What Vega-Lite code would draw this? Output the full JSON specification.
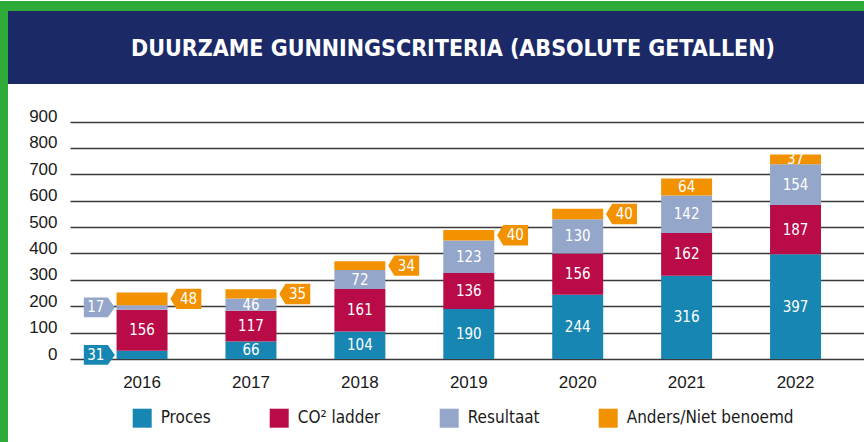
{
  "$schema": "https://vega.github.io/schema/vega-lite/v6.json",
  "background": "white",
  "padding": 0,
  "autosize": {"type": "pad"},
  "bounds": "flush",
  "spacing": 0,
  "resolve": {"scale": {"color": "independent", "fill": "independent"}},
  "config": {"view": {"stroke": null}, "font": "Liberation Sans"},
  "hconcat": [
    {
      "width": 8, "height": 442,
      "view": {"fill": "#2eaa38", "stroke": null},
      "data": {"values": [{"t": ""}]},
      "mark": {"type": "text"},
      "encoding": {"text": {"field": "t"}}
    },
    {
      "spacing": 0,
      "bounds": "flush",
      "resolve": {"scale": {"color": "independent", "fill": "independent"}},
      "vconcat": [
        {
          "width": 856, "height": 10,
          "view": {"fill": "#2eaa38", "stroke": null},
          "data": {"values": [{"t": ""}]},
          "mark": {"type": "text"},
          "encoding": {"text": {"field": "t"}}
        },
        {
          "width": 856, "height": 73,
          "view": {"fill": "#1b2a66", "stroke": null},
          "data": {"values": [{"t": "DUURZAME GUNNINGSCRITERIA (ABSOLUTE GETALLEN)"}]},
          "mark": {"type": "text", "font": "DejaVu Sans Condensed", "fontWeight": "bold", "fontSize": 23, "color": "white", "dx": 17, "dy": 1, "baseline": "middle", "align": "center"},
          "encoding": {"text": {"field": "t"}}
        },
        {
          "spacing": 0,
          "bounds": "flush",
          "resolve": {"scale": {"color": "independent", "fill": "independent"}},
          "hconcat": [
            {
              "width": 62, "height": 275,
              "data": {"values": [{"t": ""}]},
              "mark": {"type": "text"},
              "encoding": {"text": {"field": "t"}}
            },
            {
              "width": 794, "height": 275,
              "data": {"values": [
                {"year": "2016", "series": "Proces", "rank": 1, "value": 31},
                {"year": "2016", "series": "CO² ladder", "rank": 2, "value": 156},
                {"year": "2016", "series": "Resultaat", "rank": 3, "value": 17},
                {"year": "2016", "series": "Anders/Niet benoemd", "rank": 4, "value": 48},
                {"year": "2017", "series": "Proces", "rank": 1, "value": 66},
                {"year": "2017", "series": "CO² ladder", "rank": 2, "value": 117},
                {"year": "2017", "series": "Resultaat", "rank": 3, "value": 46},
                {"year": "2017", "series": "Anders/Niet benoemd", "rank": 4, "value": 35},
                {"year": "2018", "series": "Proces", "rank": 1, "value": 104},
                {"year": "2018", "series": "CO² ladder", "rank": 2, "value": 161},
                {"year": "2018", "series": "Resultaat", "rank": 3, "value": 72},
                {"year": "2018", "series": "Anders/Niet benoemd", "rank": 4, "value": 34},
                {"year": "2019", "series": "Proces", "rank": 1, "value": 190},
                {"year": "2019", "series": "CO² ladder", "rank": 2, "value": 136},
                {"year": "2019", "series": "Resultaat", "rank": 3, "value": 123},
                {"year": "2019", "series": "Anders/Niet benoemd", "rank": 4, "value": 40},
                {"year": "2020", "series": "Proces", "rank": 1, "value": 244},
                {"year": "2020", "series": "CO² ladder", "rank": 2, "value": 156},
                {"year": "2020", "series": "Resultaat", "rank": 3, "value": 130},
                {"year": "2020", "series": "Anders/Niet benoemd", "rank": 4, "value": 40},
                {"year": "2021", "series": "Proces", "rank": 1, "value": 316},
                {"year": "2021", "series": "CO² ladder", "rank": 2, "value": 162},
                {"year": "2021", "series": "Resultaat", "rank": 3, "value": 142},
                {"year": "2021", "series": "Anders/Niet benoemd", "rank": 4, "value": 64},
                {"year": "2022", "series": "Proces", "rank": 1, "value": 397},
                {"year": "2022", "series": "CO² ladder", "rank": 2, "value": 187},
                {"year": "2022", "series": "Resultaat", "rank": 3, "value": 154},
                {"year": "2022", "series": "Anders/Niet benoemd", "rank": 4, "value": 37}
              ]},
              "encoding": {
                "x": {
                  "field": "year", "type": "nominal", "title": null,
                  "scale": {"paddingInner": 0.532, "paddingOuter": 0.411, "align": 0.52},
                  "axis": {"labelAngle": 0, "domain": false, "ticks": false, "grid": false, "labelPadding": 15, "labelFontSize": 17, "labelColor": "#1a1a1a", "labelFont": "Liberation Sans"}
                },
                "y": {
                  "field": "value", "type": "quantitative", "stack": "zero", "title": null,
                  "scale": {"domain": [0, 1042.5], "nice": false},
                  "axis": {"values": [0, 100, 200, 300, 400, 500, 600, 700, 800, 900], "domain": false, "ticks": false, "grid": true, "gridColor": "#3a3a3a", "gridWidth": 1.5, "gridOpacity": 1, "labelFontSize": 17, "labelPadding": 13, "labelBaseline": "middle", "labelOffset": -5, "labelColor": "#1a1a1a", "labelFont": "Liberation Sans"}
                },
                "order": {"field": "rank", "type": "quantitative"}
              },
              "layer": [
                {
                  "mark": {"type": "bar"},
                  "encoding": {
                    "color": {
                      "field": "series", "type": "nominal",
                      "scale": {"domain": ["Proces", "CO² ladder", "Resultaat", "Anders/Niet benoemd"], "range": ["#1786b3", "#b80b48", "#94a6c9", "#f39200"]},
                      "legend": {"title": null, "orient": "none", "legendX": 62.7, "legendY": 324.7, "direction": "horizontal", "columns": 4, "padding": 0, "symbolType": "square", "symbolSize": 361, "symbolStrokeWidth": 0, "symbolOpacity": 1, "labelFontSize": 17, "labelFont": "DejaVu Sans Condensed", "labelColor": "#1a1a1a", "labelLimit": 400, "columnPadding": 59, "labelOffset": 9}
                    }
                  }
                },
                {
                  "mark": {"type": "text", "font": "DejaVu Sans Condensed", "fontSize": 15, "color": "white", "baseline": "middle", "align": "center"},
                  "encoding": {
                    "y": {"field": "value", "type": "quantitative", "stack": "zero", "bandPosition": 0.5, "title": null},
                    "text": {"field": "value", "type": "quantitative"},
                    "opacity": {"condition": {"test": "(datum.year == '2016' && (datum.series == 'Proces' || datum.series == 'Resultaat')) || (datum.series == 'Anders/Niet benoemd' && +datum.year <= 2020)", "value": 0}, "value": 1}
                  }
                },
                {
                  "mark": {"type": "point", "shape": "M-1,-0.64L0.55,-0.64L1,0L0.55,0.64L-1,0.64Z", "size": 961, "filled": true, "strokeWidth": 0, "xOffset": -42.7},
                  "encoding": {
                    "y": {"field": "value", "type": "quantitative", "stack": "zero", "bandPosition": 0.5, "title": null},
                    "fill": {"field": "series", "type": "nominal", "scale": {"domain": ["Proces", "CO² ladder", "Resultaat", "Anders/Niet benoemd"], "range": ["#1786b3", "#b80b48", "#94a6c9", "#f39200"]}, "legend": null},
                    "opacity": {"condition": {"test": "datum.year == '2016' && (datum.series == 'Proces' || datum.series == 'Resultaat')", "value": 1}, "value": 0}
                  }
                },
                {
                  "mark": {"type": "text", "font": "DejaVu Sans Condensed", "fontSize": 15, "color": "white", "baseline": "middle", "align": "center", "xOffset": -46.2},
                  "encoding": {
                    "y": {"field": "value", "type": "quantitative", "stack": "zero", "bandPosition": 0.5, "title": null},
                    "text": {"field": "value", "type": "quantitative"},
                    "opacity": {"condition": {"test": "datum.year == '2016' && (datum.series == 'Proces' || datum.series == 'Resultaat')", "value": 1}, "value": 0}
                  }
                },
                {
                  "mark": {"type": "point", "shape": "M1,-0.66L-0.6,-0.66L-1,0L-0.6,0.66L1,0.66Z", "size": 961, "filled": true, "strokeWidth": 0, "xOffset": 43.8},
                  "encoding": {
                    "y": {"field": "value", "type": "quantitative", "stack": "zero", "bandPosition": 0.5, "title": null},
                    "fill": {"field": "series", "type": "nominal", "scale": {"domain": ["Proces", "CO² ladder", "Resultaat", "Anders/Niet benoemd"], "range": ["#1786b3", "#b80b48", "#94a6c9", "#f39200"]}, "legend": null},
                    "opacity": {"condition": {"test": "datum.series == 'Anders/Niet benoemd' && +datum.year <= 2020", "value": 1}, "value": 0}
                  }
                },
                {
                  "mark": {"type": "text", "font": "DejaVu Sans Condensed", "fontSize": 15, "color": "white", "baseline": "middle", "align": "center", "xOffset": 46.5},
                  "encoding": {
                    "y": {"field": "value", "type": "quantitative", "stack": "zero", "bandPosition": 0.5, "title": null},
                    "text": {"field": "value", "type": "quantitative"},
                    "opacity": {"condition": {"test": "datum.series == 'Anders/Niet benoemd' && +datum.year <= 2020", "value": 1}, "value": 0}
                  }
                }
              ]
            }
          ]
        }
      ]
    }
  ]
}
